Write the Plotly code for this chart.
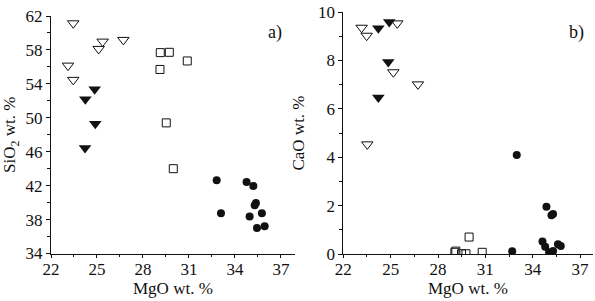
import plotly.graph_objects as go

# Panel a) SiO2 vs MgO
a_open_tri_mgo = [23.45, 25.37, 25.11, 26.72, 23.11, 23.45]
a_open_tri_sio2 = [61.14, 58.98, 58.12, 59.18, 56.15, 54.47]
a_fill_tri_mgo = [24.85, 24.24, 24.89, 24.22]
a_fill_tri_sio2 = [53.37, 52.20, 49.30, 46.43]
a_sq_mgo = [29.13, 29.72, 30.89, 29.11, 29.52, 29.98]
a_sq_sio2 = [57.68, 57.72, 56.70, 55.70, 49.40, 44.00]
a_circ_mgo = [32.81, 33.09, 34.76, 35.20, 35.37, 35.29, 34.96, 35.76, 35.44, 35.94]
a_circ_sio2 = [42.63, 38.74, 42.43, 41.96, 39.96, 39.68, 38.35, 38.74, 37.02, 37.21]

# Panel b) CaO vs MgO
b_open_tri_mgo = [23.16, 23.48, 25.42, 25.17, 26.73, 23.52]
b_open_tri_cao = [9.35, 9.02, 9.53, 7.51, 7.01, 4.53]
b_fill_tri_mgo = [24.22, 24.91, 24.85, 24.22]
b_fill_tri_cao = [9.33, 9.59, 7.93, 6.47]
b_sq_mgo = [29.07, 29.13, 29.49, 29.77, 30.80, 29.97]
b_sq_cao = [0.07, 0.12, 0.01, 0.01, 0.07, 0.70]
b_circ_mgo = [32.70, 32.99, 34.62, 34.79, 34.87, 35.04, 35.19, 35.29, 35.29, 35.60, 35.78]
b_circ_cao = [0.11, 4.09, 0.52, 0.30, 1.95, 0.07, 1.60, 0.12, 1.65, 0.40, 0.33]

x_ticks = [22, 25, 28, 31, 34, 37]
a_y_ticks = [34, 38, 42, 46, 50, 54, 58, 62]
b_y_ticks = [0, 2, 4, 6, 8, 10]

FONT = "Liberation Serif, Times New Roman, serif"
BLACK = "#111111"

fig = go.Figure()

def add_panel(xref, yref, otx, oty, ftx, fty, sqx, sqy, cx, cy):
    fig.add_trace(go.Scatter(x=otx, y=oty, mode="markers", xaxis=xref, yaxis=yref,
                             marker=dict(symbol="triangle-down-open", size=10, color=BLACK,
                                         line=dict(width=1, color=BLACK))))
    fig.add_trace(go.Scatter(x=ftx, y=fty, mode="markers", xaxis=xref, yaxis=yref,
                             marker=dict(symbol="triangle-down", size=11, color=BLACK,
                                         line=dict(width=0))))
    fig.add_trace(go.Scatter(x=sqx, y=sqy, mode="markers", xaxis=xref, yaxis=yref,
                             marker=dict(symbol="square-open", size=8, color=BLACK,
                                         line=dict(width=1, color=BLACK))))
    fig.add_trace(go.Scatter(x=cx, y=cy, mode="markers", xaxis=xref, yaxis=yref,
                             marker=dict(symbol="circle", size=8, color=BLACK,
                                         line=dict(width=0))))

add_panel("x", "y", a_open_tri_mgo, a_open_tri_sio2, a_fill_tri_mgo, a_fill_tri_sio2,
          a_sq_mgo, a_sq_sio2, a_circ_mgo, a_circ_sio2)
add_panel("x2", "y2", b_open_tri_mgo, b_open_tri_cao, b_fill_tri_mgo, b_fill_tri_cao,
          b_sq_mgo, b_sq_cao, b_circ_mgo, b_circ_cao)

W, H = 595, 301
def px(v):
    return v / W
def py(v):
    return 1 - v / H

common_x = dict(showline=True, linecolor=BLACK, linewidth=1, showgrid=False, zeroline=False,
                automargin=False, ticklabelstandoff=-3,
                ticks="outside", ticklen=3, tickcolor=BLACK, tickvals=x_ticks,
                tickfont=dict(family=FONT, size=17, color=BLACK),
                minor=dict(ticks="outside", ticklen=2, dtick=1.5, tick0=22, tickcolor=BLACK))
common_y = dict(showline=True, linecolor=BLACK, linewidth=1, showgrid=False, zeroline=False,
                automargin=False,
                ticks="outside", ticklen=4, tickcolor=BLACK,
                tickfont=dict(family=FONT, size=17, color=BLACK))

title_font = dict(family=FONT, size=17, color=BLACK)

def label(text, x, y, size=17):
    return dict(text=text, x=px(x), y=py(y), xref="paper", yref="paper", showarrow=False,
                xanchor="center", yanchor="middle",
                font=dict(family=FONT, size=size, color=BLACK))

fig.update_layout(
    width=W, height=H, margin=dict(l=0, r=0, t=0, b=0),
    paper_bgcolor="white", plot_bgcolor="white", showlegend=False,
    xaxis=dict(common_x, domain=[px(51), px(295)], range=[22, 37.92], anchor="y"),
    yaxis=dict(common_y, domain=[py(253.5), py(16)], range=[34, 62], tickvals=a_y_ticks,
               anchor="x",
               minor=dict(ticks="outside", ticklen=3, dtick=2, tick0=34, tickcolor=BLACK),
               title=dict(text="SiO<sub>2</sub> wt. %", font=title_font, standoff=8)),
    xaxis2=dict(common_x, domain=[px(343.3), px(593)], range=[22, 37.82], anchor="y2"),
    yaxis2=dict(common_y, domain=[py(254), py(12)], range=[0, 10], tickvals=b_y_ticks,
                anchor="x2",
                minor=dict(ticks="outside", ticklen=3, dtick=1, tick0=0, tickcolor=BLACK),
                title=dict(text="CaO wt. %", font=title_font, standoff=8)),
    annotations=[
        label("MgO wt. %", 173, 288),
        label("MgO wt. %", 468, 288),
        label("a)", 275, 32, 18),
        label("b)", 576, 32, 18),
    ],
)

fig.write_html("out.html", config={"displayModeBar": False},
               post_script="document.body.style.margin='0';document.body.style.overflow='hidden';")
